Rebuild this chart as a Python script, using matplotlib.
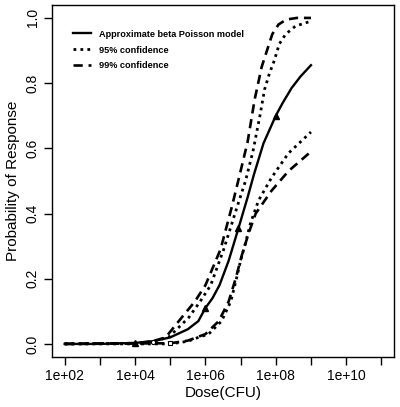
import matplotlib
matplotlib.use("Agg")
import matplotlib.pyplot as plt
import numpy as np

# log10(dose) and response values
model_logdose = [2, 3, 4, 4.5, 5, 5.5, 5.8, 6.0, 6.2, 6.4, 6.66, 6.94, 7.2, 7.38, 7.65, 8.0, 8.2, 8.45, 8.7, 9]
model_resp = [0, 0, 0.003, 0.008, 0.02, 0.045, 0.07, 0.11, 0.14, 0.18, 0.255, 0.355, 0.45, 0.52, 0.615, 0.70, 0.74, 0.785, 0.82, 0.855]

ci95_hi_logdose = [2, 4, 4.5, 4.95, 5.52, 5.85, 6.15, 6.52, 6.9, 7.14, 7.35, 7.55, 7.68, 7.82, 7.96, 8.1, 8.28, 8.56, 9]
ci95_hi_resp = [0, 0.002, 0.007, 0.02, 0.08, 0.13, 0.18, 0.29, 0.42, 0.50, 0.59, 0.70, 0.78, 0.83, 0.87, 0.92, 0.95, 0.975, 0.99]

ci95_lo_logdose = [2, 5, 5.5, 5.8, 6.09, 6.46, 6.72, 6.86, 7.0, 7.14, 7.28, 7.51, 7.88, 8.36, 9]
ci95_lo_resp = [0, 0.0, 0.008, 0.02, 0.03, 0.07, 0.13, 0.19, 0.255, 0.31, 0.37, 0.44, 0.51, 0.585, 0.65]

ci99_hi_logdose = [2, 4, 4.5, 4.87, 5.32, 5.7, 6.0, 6.43, 6.75, 7.0, 7.2, 7.4, 7.6, 7.75, 7.9, 8.08, 8.3, 8.6, 9]
ci99_hi_resp = [0, 0.002, 0.008, 0.02, 0.08, 0.13, 0.18, 0.29, 0.42, 0.53, 0.62, 0.75, 0.85, 0.90, 0.95, 0.98, 0.995, 1.0, 1.0]

ci99_lo_logdose = [2, 5, 5.5, 6.0, 6.38, 6.66, 6.86, 7.03, 7.23, 7.43, 7.88, 8.36, 9]
ci99_lo_resp = [0, 0.002, 0.01, 0.03, 0.07, 0.13, 0.20, 0.27, 0.34, 0.40, 0.47, 0.53, 0.59]

# observed points
obs_logdose = [4, 6, 6.94, 8]
obs_resp = [0.003, 0.11, 0.355, 0.70]
open_logdose = [4.5, 5.0]
open_resp = [0.006, 0.002]

plt.rcParams['font.family'] = ['Liberation Sans', 'DejaVu Sans']

fig = plt.figure(figsize=(4.0, 4.07), dpi=100)
ax = fig.add_axes([0.13, 0.123, 0.855, 0.865])


def dose(l):
    return 10 ** np.array(l, dtype=float)


dots = (0, (1, 1.5))
dashes = (0, (3.5, 2.2))

ax.plot(dose(model_logdose), model_resp, color='black', lw=1.7, ls='-',
        label='Approximate beta Poisson model')
ax.plot(dose(ci95_hi_logdose), ci95_hi_resp, color='black', lw=2.0, ls=dots,
        label='95% confidence')
ax.plot(dose(ci95_lo_logdose), ci95_lo_resp, color='black', lw=2.0, ls=dots)
ax.plot(dose(ci99_hi_logdose), ci99_hi_resp, color='black', lw=1.9, ls=dashes,
        label='99% confidence')
ax.plot(dose(ci99_lo_logdose), ci99_lo_resp, color='black', lw=1.9, ls=dashes)
ax.plot(dose(obs_logdose), obs_resp, ls='none', marker='^', ms=4, color='black')
ax.plot(dose(open_logdose[:1]), open_resp[:1], ls='none', marker='o', ms=3,
        mfc='white', mec='black', mew=0.8)
ax.plot(dose(open_logdose[1:]), open_resp[1:], ls='none', marker='s', ms=3,
        mfc='white', mec='black', mew=0.8)

ax.set_xscale('log')
ax.set_xlim(10 ** 1.64, 10 ** 11.36)
ax.set_ylim(-0.04, 1.04)

ax.set_xticks([10.0 ** k for k in range(2, 12)])
ax.set_xticklabels(['1e+%02d' % k if k % 2 == 0 else '' for k in range(2, 12)])
ax.xaxis.set_minor_locator(matplotlib.ticker.NullLocator())
ax.set_yticks([0, 0.2, 0.4, 0.6, 0.8, 1.0])
ax.set_yticklabels(['0.0', '0.2', '0.4', '0.6', '0.8', '1.0'], rotation=90, va='center')

ax.tick_params(direction='out', length=6, width=1, labelsize=10, pad=3)
for s in ax.spines.values():
    s.set_linewidth(1.0)

ax.set_xlabel('Dose(CFU)', fontsize=11, labelpad=2)
ax.set_ylabel('Probability of Response', fontsize=11, labelpad=4)

leg = ax.legend(loc='upper left', bbox_to_anchor=(0.052, 0.94), frameon=False,
                fontsize=6.6, handlelength=1.9, labelspacing=0.75,
                handletextpad=0.9, borderaxespad=0)
for t in leg.get_texts():
    t.set_fontweight('bold')

fig.savefig('out.png', dpi=100)
